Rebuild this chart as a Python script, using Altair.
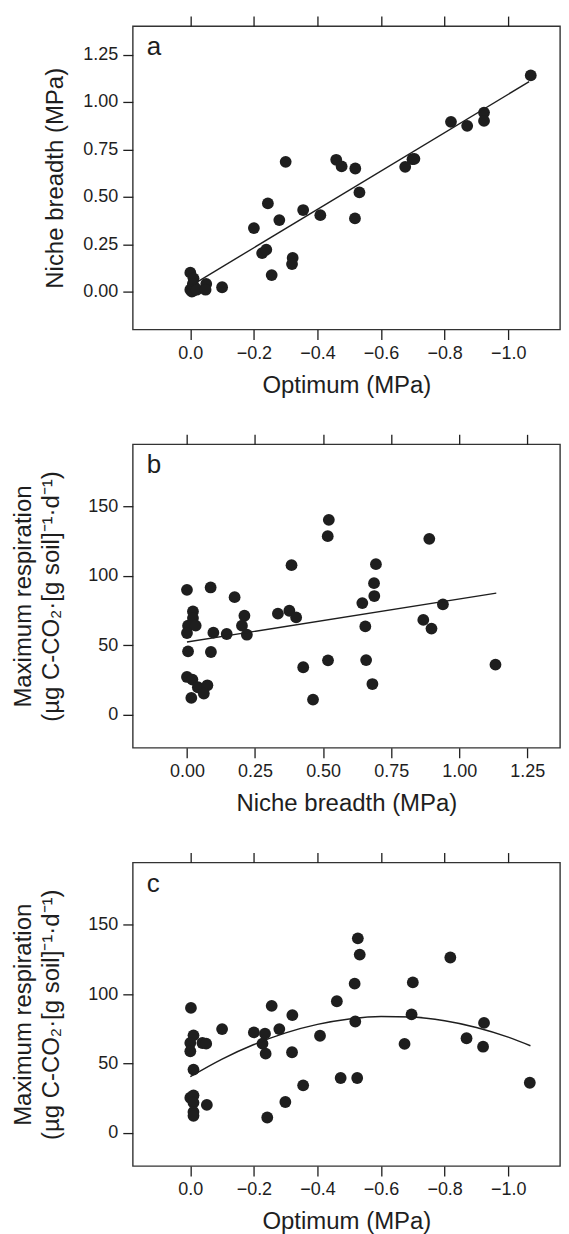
import altair as alt
import pandas as pd

# ---------- Panel a: Optimum (MPa) vs Niche breadth (MPa) ----------
a_opt = [0.0, -0.01, 0.0, -0.005, -0.01, -0.015, -0.008, -0.02, -0.05, -0.048,
         -0.10, -0.20, -0.244, -0.28, -0.30, -0.226, -0.239, -0.256, -0.322, -0.32,
         -0.355, -0.409, -0.459, -0.476, -0.519, -0.518, -0.532, -0.676, -0.699, -0.705,
         -0.82, -0.871, -0.924, -0.924, -1.071]
a_breadth = [0.10, 0.07, 0.01, 0.0, 0.005, 0.02, 0.04, 0.01, 0.04, 0.01,
             0.023, 0.335, 0.465, 0.377, 0.684, 0.203, 0.221, 0.087, 0.177, 0.145,
             0.43, 0.403, 0.695, 0.66, 0.649, 0.386, 0.523, 0.658, 0.698, 0.70,
             0.895, 0.874, 0.944, 0.90, 1.14]
a_fit_opt = [0.0, -1.066]
a_fit_breadth = [0.029, 1.107]

# ---------- Panel b: Niche breadth vs Maximum respiration ----------
b_breadth = [0.0, 0.022, 0.022, 0.004, 0.032, 0.0, 0.004, 0.0, 0.02, 0.04,
             0.075, 0.062, 0.016, 0.087, 0.097, 0.088, 0.146, 0.175, 0.211, 0.202,
             0.22, 0.334, 0.376, 0.384, 0.401, 0.427, 0.463, 0.521, 0.517, 0.518,
             0.644, 0.655, 0.658, 0.687, 0.694, 0.688, 0.681, 0.89, 0.868, 0.898,
             0.94, 1.133]
b_resp = [90.0, 74.4, 69.6, 64.1, 64.1, 58.8, 45.6, 27.1, 25.2, 19.7,
          21.1, 15.1, 12.0, 91.7, 59.1, 45.1, 58.1, 84.7, 71.3, 64.1,
          57.6, 72.8, 74.9, 107.8, 70.1, 34.1, 10.8, 140.5, 128.7, 39.1,
          80.4, 63.6, 39.3, 94.8, 108.5, 85.5, 22.0, 126.8, 68.3, 62.0,
          79.5, 36.0]
b_fit_breadth = [0.0, 1.136]
b_fit_resp = [52.3, 87.6]

# ---------- Panel c: Optimum vs Maximum respiration ----------
c_opt = [-0.002, -0.01, 0.0, 0.0, -0.01, -0.038, -0.05, 0.0, -0.01, -0.01,
         -0.01, -0.01, -0.052, -0.10, -0.20, -0.235, -0.227, -0.237, -0.256, -0.28,
         -0.321, -0.32, -0.355, -0.299, -0.242, -0.408, -0.461, -0.473, -0.525, -0.517,
         -0.527, -0.533, -0.519, -0.674, -0.696, -0.70, -0.818, -0.869, -0.924, -0.921,
         -1.068]
c_resp = [90.1, 70.3, 64.8, 58.8, 45.6, 64.8, 64.3, 25.3, 27.0, 21.7,
          15.0, 12.2, 20.1, 74.8, 72.4, 71.5, 64.3, 57.1, 91.6, 74.8,
          84.9, 58.1, 34.2, 22.2, 11.0, 70.0, 94.9, 39.5, 39.5, 107.6,
          140.3, 128.6, 80.3, 64.1, 85.4, 108.5, 126.5, 68.2, 79.3, 62.1,
          36.1]
c_fit_opt = [0.0, -0.1, -0.2, -0.3, -0.4, -0.5, -0.6, -0.7, -0.8, -0.9, -1.0, -1.07]
c_fit_resp = [40.5, 53.2, 63.7, 72.1, 78.2, 82.1, 83.9, 83.5, 80.8, 76.0, 69.0, 62.8]

# ---------- Axis ticks ----------
opt_ticks = [0.0, -0.2, -0.4, -0.6, -0.8, -1.0]
breadth_ticks = [0.0, 0.25, 0.5, 0.75, 1.0, 1.25]
resp_ticks = [0, 50, 100, 150]

FONT = "Liberation Sans"
INK = "#1e1e1e"
W, H = 428, 304

opt_scale = alt.Scale(domain=[-1.163, 0.181], reverse=True, nice=False, zero=False)
breadth_x_scale = alt.Scale(domain=[-0.199, 1.37], nice=False, zero=False)
breadth_y_scale = alt.Scale(domain=[-0.2, 1.4], nice=False, zero=False)
resp_scale = alt.Scale(domain=[-24, 195], nice=False, zero=False)

resp_title = ["Maximum respiration", "(µg C-CO₂·[g soil]⁻¹·d⁻¹)"]


def panel(px, py, fx, fy, xscale, yscale, xticks, yticks, xfmt, yfmt,
          xtitle, ytitle, ytitle_pad, letter, interp="linear"):
    pts_df = pd.DataFrame({"x": px, "y": py})
    fit_df = pd.DataFrame({"x": fx, "y": fy})
    lab_df = pd.DataFrame({"t": [letter]})
    yaxis = alt.Axis(values=yticks, format=yfmt, title=ytitle,
                     titlePadding=ytitle_pad)
    xbottom = alt.Axis(values=xticks, format=xfmt, title=xtitle, orient="bottom")
    xtop = alt.Axis(values=xticks, labels=False, title=None, orient="top",
                    labelPadding=0, titlePadding=0)

    pts = alt.Chart(pts_df).mark_circle(size=140, color=INK, opacity=1).encode(
        x=alt.X("x:Q", scale=xscale, axis=xbottom),
        y=alt.Y("y:Q", scale=yscale, axis=yaxis),
    )
    fit = alt.Chart(fit_df).mark_line(color=INK, strokeWidth=1.4,
                                      interpolate=interp).encode(
        x=alt.X("x:Q", scale=xscale, axis=xtop),
        y=alt.Y("y:Q", scale=yscale, axis=yaxis),
    )
    lab = alt.Chart(lab_df).mark_text(
        align="left", baseline="alphabetic", font=FONT, fontSize=26, color=INK
    ).encode(x=alt.value(14), y=alt.value(29), text="t:N")
    return alt.layer(pts, fit, lab).resolve_axis(x="independent").properties(
        width=W, height=H)


pa = panel(a_opt, a_breadth, a_fit_opt, a_fit_breadth, opt_scale, breadth_y_scale,
           opt_ticks, breadth_ticks, ".1f", ".2f",
           "Optimum (MPa)", "Niche breadth (MPa)", 15, "a")
pb = panel(b_breadth, b_resp, b_fit_breadth, b_fit_resp, breadth_x_scale, resp_scale,
           breadth_ticks, resp_ticks, ".2f", "d",
           "Niche breadth (MPa)", resp_title, 24, "b")
pc = panel(c_opt, c_resp, c_fit_opt, c_fit_resp, opt_scale, resp_scale,
           opt_ticks, resp_ticks, ".1f", "d",
           "Optimum (MPa)", resp_title, 24, "c", interp="monotone")

chart = alt.vconcat(pa, pb, pc, spacing=34).properties(
    padding={"left": 3, "top": 5, "right": 0, "bottom": 0}
).configure_view(
    stroke="#333333", strokeWidth=1.4
).configure_axis(
    domain=False, grid=False,
    tickColor=INK, tickWidth=1.3, tickSize=10,
    labelFont=FONT, labelFontSize=18, labelColor=INK, labelPadding=5,
    titleFont=FONT, titleFontSize=24, titleFontWeight="normal", titleColor=INK,
    titlePadding=11, titleLineHeight=28,
)

chart.save("out.html", embed_options={"renderer": "svg", "actions": False})
